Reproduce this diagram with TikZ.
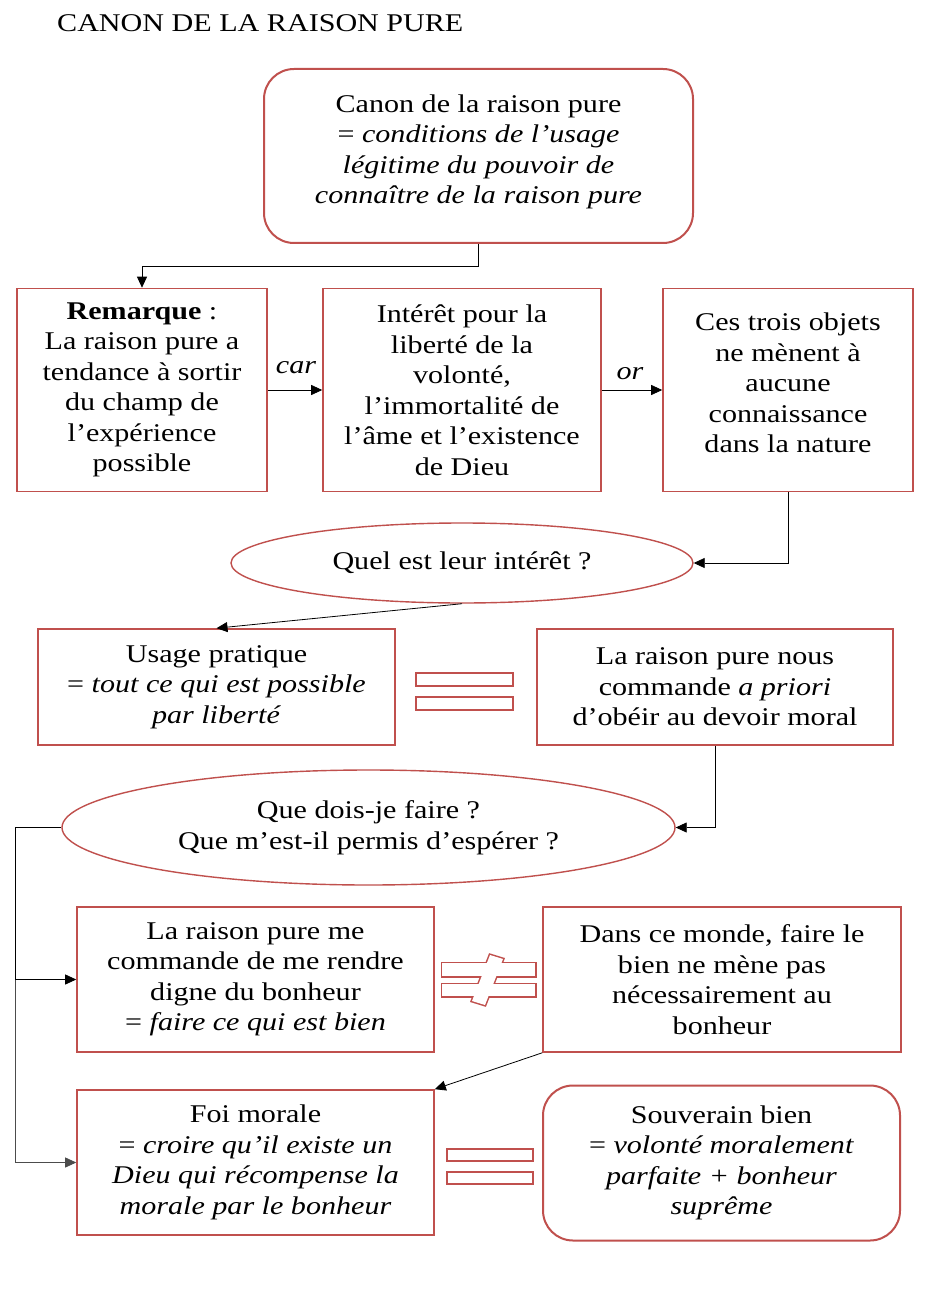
\documentclass[tikz,border=0pt]{standalone}
\usepackage{fontspec}
\setmainfont{Liberation Serif}[FakeStretch=1.18]
\usetikzlibrary{arrows.meta,shapes.geometric,calc}
\definecolor{boxred}{RGB}{192,80,77}
\begin{document}
\begin{tikzpicture}[x=1pt,y=-1pt,
  every node/.style={font=\fontsize{25.5}{30.5}\selectfont, inner sep=0pt},
  rbox/.style={draw=boxred, line width=1.6pt, align=center, fill=white},
  roundbox/.style={rbox, rounded corners=30pt, line width=2pt},
  oval/.style={ellipse, draw=boxred, line width=1.4pt, align=center},
  arr/.style={-{Triangle[length=11pt,width=10pt]}, line width=0.8pt, black},
  eqbar/.style={draw=boxred, line width=1.5pt}
]
\useasboundingbox (0,0) rectangle (936,1297);
\fill[white] (0,0) rectangle (936,1297);

\node[anchor=base west] (title) at (57,32) {CANON DE LA RAISON PURE};

\node[roundbox, minimum width=429pt, minimum height=174pt] (top) at (478.5,156) {};
\node[align=center] (toptext) at (478.5,152)
  {Canon de la raison pure\\ = \textit{conditions de l’usage}\\ \textit{légitime du pouvoir de}\\ \textit{connaître de la raison pure}};

\node[rbox, minimum width=250pt, minimum height=203pt] (rem) at (142,390)
  {\textbf{Remarque} :\\ La raison pure a\\ tendance à sortir\\ du champ de\\ l’expérience\\ possible};
\node[rbox, minimum width=278pt, minimum height=203pt] (int) at (462,390)
  {Intérêt pour la\\ liberté de la\\ volonté,\\ l’immortalité de\\ l’âme et l’existence\\ de Dieu};
\node[rbox, minimum width=250pt, minimum height=203pt] (ces) at (788,390) {};
\node[align=center] (cestext) at (788,383)
  {Ces trois objets\\ ne mènent à\\ aucune\\ connaissance\\ dans la nature};

\node[font=\fontsize{25.5}{30.5}\selectfont\itshape] (car) at (296,368) {car};
\node[font=\fontsize{25.5}{30.5}\selectfont\itshape] (or) at (630,374) {or};

\node[oval, minimum width=462pt, minimum height=80pt] (q1) at (462,563) {Quel est leur intérêt ?};

\node[rbox, minimum width=357pt, minimum height=116pt] (usage) at (216.5,687)
  {Usage pratique\\ = \textit{tout ce qui est possible}\\ \textit{par liberté}};
\node[rbox, minimum width=356pt, minimum height=116pt] (lrp) at (715,687)
  {La raison pure nous\\ commande \textit{a priori}\\ d’obéir au devoir moral};

\node[oval, minimum width=613pt, minimum height=115pt] (q2) at (368.5,827.5)
  {Que dois-je faire ?\\ Que m’est-il permis d’espérer ?};

\node[rbox, minimum width=357pt, minimum height=145pt] (A) at (255.5,979.5)
  {La raison pure me\\ commande de me rendre\\ digne du bonheur\\ = \textit{faire ce qui est bien}};
\node[rbox, minimum width=358pt, minimum height=145pt] (B) at (722,979.5)
  {Dans ce monde, faire le\\ bien ne mène pas\\ nécessairement au\\ bonheur};

\node[rbox, minimum width=357pt, minimum height=145pt] (C) at (255.5,1162.5)
  {Foi morale\\ = \textit{croire qu’il existe un}\\ \textit{Dieu qui récompense la}\\ \textit{morale par le bonheur}};
\node[roundbox, minimum width=357pt, minimum height=155pt] (D) at (721.5,1163)
  {Souverain bien\\ = \textit{volonté moralement}\\ \textit{parfaite + bonheur}\\ \textit{suprême}};

% equal signs
\draw[eqbar] (416,673) rectangle (513,686);
\draw[eqbar] (416,697) rectangle (513,710);
\draw[eqbar] (447,1149) rectangle (533,1161);
\draw[eqbar] (447,1172) rectangle (533,1184);

% not-equal sign (union outline)
\draw[boxred, line width=3pt] (442,963) rectangle (535,976);
\draw[boxred, line width=3pt] (442,984) rectangle (535,996);
\draw[boxred, line width=3pt] (490,955) -- (503,959) -- (485,1005) -- (472,1001) -- cycle;
\fill[white] (442,963) rectangle (535,976);
\fill[white] (442,984) rectangle (535,996);
\fill[white] (490,955) -- (503,959) -- (485,1005) -- (472,1001) -- cycle;

% connectors
\draw[arr] (top.south) -- ++(0,22) -| (rem.north);
\draw[arr] (rem.east) -- (int.west);
\draw[arr] (int.east) -- (ces.west);
\draw[arr] (ces.south) |- (q1.east);
\draw[arr] (q1.south) -- (usage.north);
\draw[arr] (lrp.south) |- (q2.east);
\draw[line width=0.8pt] (q2.west) -- ++(-46,0) coordinate (lft);
\draw[arr] (lft) |- (A.west);
\draw[arr, black!70] ($(lft)!(A.west)!(lft|-C.west)$) |- (C.west);
\draw[arr] (B.south west) -- (C.north east);
\end{tikzpicture}
\end{document}
